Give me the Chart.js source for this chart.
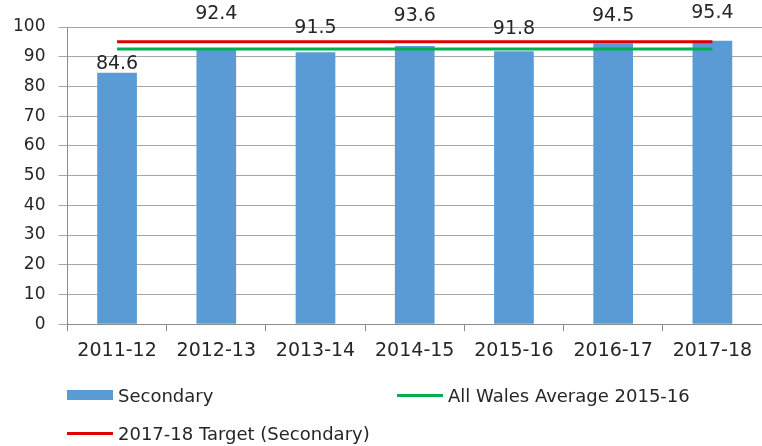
<!DOCTYPE html>
<html lang="en">
  <head>
    <meta charset="UTF-8" />
    <title>Secondary attendance</title>
    <script src="https://cdn.jsdelivr.net/npm/chart.js"></script>
    <style>
      body { margin: 0; background: #fff; }
      .box { position: relative; width: 762px; height: 446px; }
      .legenda {
        position: absolute; left: 67px; top: 382px; width: 690px;
        display: grid; grid-template-columns: 330px 360px; row-gap: 12px;
        font-family: "DejaVu Sans", sans-serif; font-size: 18px; color: #262626;
      }
      .item { display: flex; align-items: center; height: 26px; white-space: nowrap; }
      .marca { width: 46px; margin-right: 5px; }
    </style>
  </head>
  <body>
    <div class="box">
      <canvas id="grafico" width="762" height="446"></canvas>
      <div class="legenda" id="legenda"></div>
    </div>

    <script>
      // dados
      var anos = ["2011-12", "2012-13", "2013-14", "2014-15", "2015-16", "2016-17", "2017-18"];
      var secundaria = [84.6, 92.4, 91.5, 93.6, 91.8, 94.5, 95.4];
      var mediaWales = [92.6, 92.6, 92.6, 92.6, 92.6, 92.6, 92.6];
      var meta = [95, 95, 95, 95, 95, 95, 95];
      var ticksY = [0, 10, 20, 30, 40, 50, 60, 70, 80, 90, 100];

      // rotulos acima das barras (deslocamento em px, como no original)
      var rotulos = {
        id: "rotulos",
        afterDatasetsDraw(chart, args, opts) {
          var ctx = chart.ctx;
          var meta0 = chart.getDatasetMeta(0);
          ctx.save();
          ctx.font = "19px 'DejaVu Sans'";
          ctx.fillStyle = "#262626";
          ctx.textAlign = "center";
          ctx.textBaseline = "middle";
          meta0.data.forEach(function (barra, i) {
            ctx.fillText(secundaria[i].toFixed(1), barra.x, barra.y - opts.desloc[i]);
          });
          ctx.restore();
        },
      };

      var dados = {
        labels: anos,
        datasets: [
          {
            type: "bar",
            label: "Secondary",
            data: secundaria,
            backgroundColor: "#5b9bd5",
            categoryPercentage: 1,
            barPercentage: 0.4,
            order: 2,
          },
          {
            type: "line",
            label: "All Wales Average 2015-16",
            data: mediaWales,
            borderColor: "#00b050",
            borderWidth: 3,
            pointRadius: 0,
            fill: false,
            order: 0,
          },
          {
            type: "line",
            label: "2017-18 Target (Secondary)",
            data: meta,
            borderColor: "#e00000",
            borderWidth: 3,
            pointRadius: 0,
            fill: false,
            order: 0,
          },
        ],
      };

      var config = {
        type: "bar",
        data: dados,
        plugins: [rotulos],
        options: {
          responsive: false,
          animation: false,
          layout: { padding: { top: 27, left: 0, right: 0, bottom: 76 } },
          plugins: {
            legend: { display: false },
            tooltip: { enabled: false },
            rotulos: { desloc: [9, 36, 24, 30, 22, 27, 28] },
          },
          scales: {
            x: {
              offset: true,
              grid: { display: true, drawOnChartArea: false, offset: true, tickLength: 7, color: "#8c8c8c" },
              border: { color: "#8c8c8c" },
              ticks: { font: { family: "DejaVu Sans", size: 19 }, color: "#262626", padding: 8, maxRotation: 0 },
            },
            y: {
              min: 0,
              max: 100,
              afterBuildTicks: function (axis) {
                axis.ticks = ticksY.map(function (v) { return { value: v }; });
              },
              grid: { color: "#a6a6a6", tickLength: 9 },
              border: { color: "#8c8c8c" },
              ticks: { font: { family: "DejaVu Sans", size: 17 }, color: "#262626", padding: 13 },
            },
          },
        },
      };

      var myChart = new Chart(document.getElementById("grafico"), config);

      // legenda montada a partir dos datasets
      var leg = document.getElementById("legenda");
      myChart.data.datasets.forEach(function (ds) {
        var item = document.createElement("div");
        item.className = "item";
        var marca = document.createElement("span");
        marca.className = "marca";
        if (ds.type === "bar") {
          marca.style.height = "10px";
          marca.style.background = ds.backgroundColor;
        } else {
          marca.style.height = "3px";
          marca.style.background = ds.borderColor;
        }
        var txt = document.createElement("span");
        txt.textContent = ds.label;
        item.appendChild(marca);
        item.appendChild(txt);
        leg.appendChild(item);
      });
    </script>
  </body>
</html>
